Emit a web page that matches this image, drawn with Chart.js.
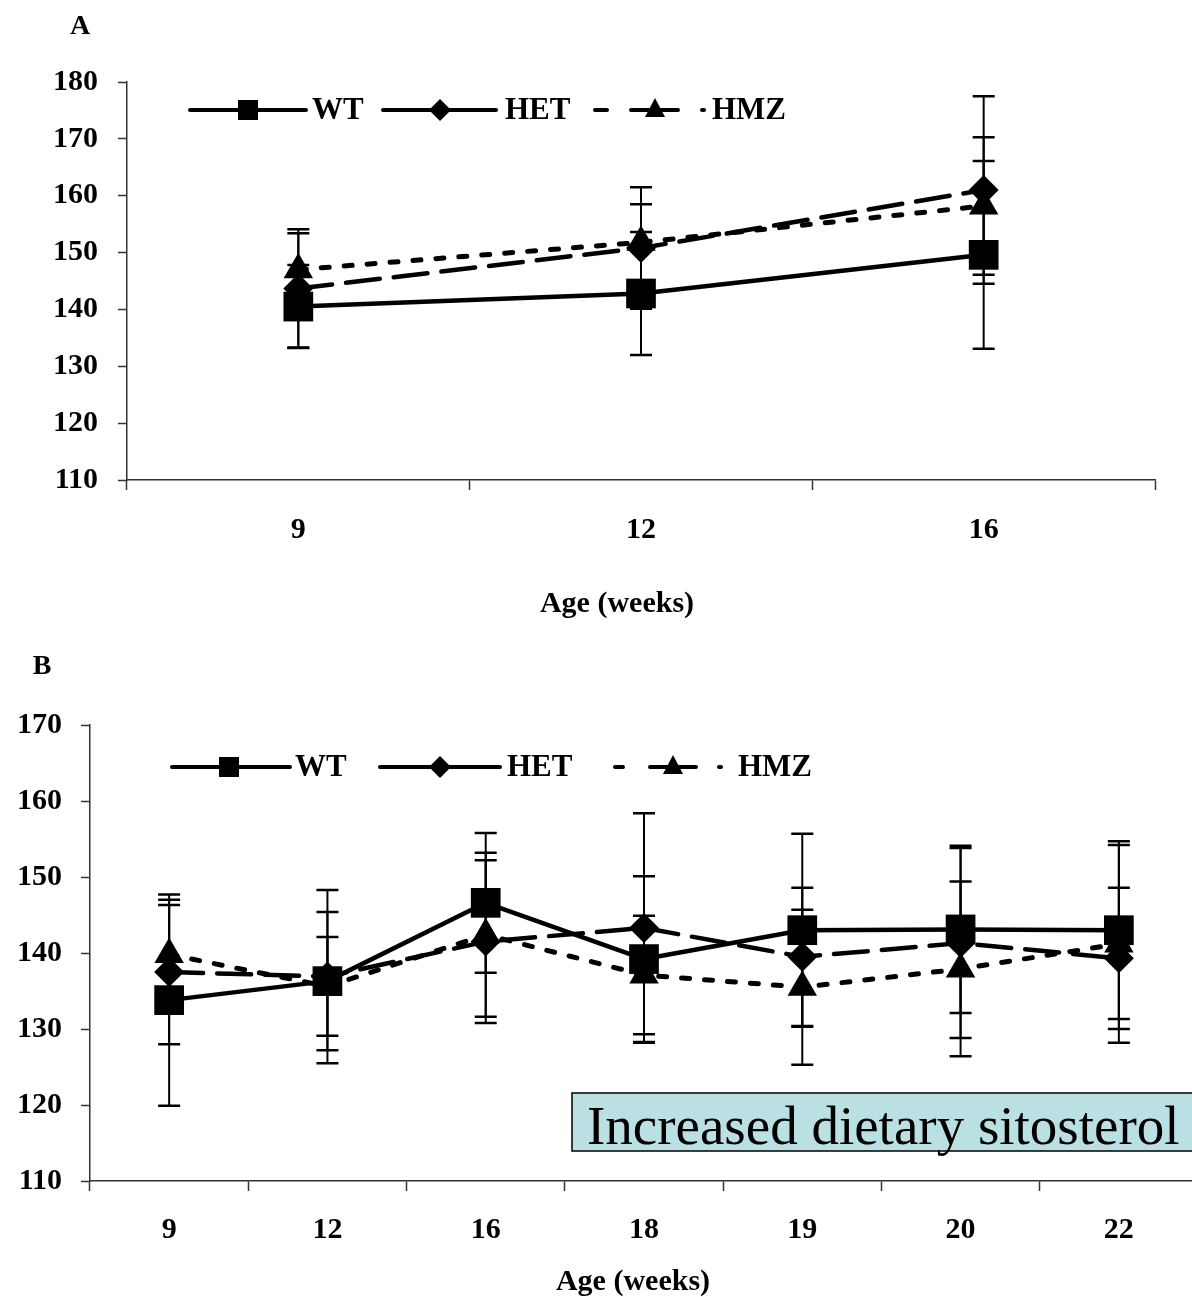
<!DOCTYPE html>
<html>
<head>
<meta charset="utf-8">
<script src="https://cdn.jsdelivr.net/npm/chart.js@4.4.1/dist/chart.umd.min.js"></script>
<style>
  html, body { margin: 0; padding: 0; background: #fff; overflow: hidden; }
  #wrapA { position: absolute; left: 0; top: 0; width: 1192px; height: 640px; }
  #wrapB { position: absolute; left: 0; top: 640px; width: 1198px; height: 657px; }
</style>
</head>
<body>
<div id="wrapA"><canvas id="chartA" width="1192" height="640"></canvas></div>
<div id="wrapB"><canvas id="chartB" width="1198" height="657"></canvas></div>
<script>
// ==========================================
// 1. DADOS
// ==========================================

// Painel A
const agesA = ["9", "12", "16"];
const wtA = [140.5, 142.8, 149.6];
const wtErrA = [7.3, 10.8, 16.5];
const hetA = [143.7, 150.8, 161.0];
const hetErrA = [10.4, 10.7, 16.5];
const hmzA = [147.0, 151.8, 158.2];
const hmzErrA = [6.4, 6.7, 12.1];

// Painel B
const agesB = ["9", "12", "16", "18", "19", "20", "22"];
const wtB = [133.8, 136.3, 146.6, 139.2, 143.0, 143.1, 143.0];
const wtErrB = [13.9, 9.1, 9.2, 10.9, 12.7, 11.0, 11.7];
const hetB = [137.5, 136.9, 141.5, 143.3, 139.5, 141.3, 139.3];
const hetErrB = [9.5, 11.4, 10.7, 15.1, 9.1, 12.5, 9.3];
const hmzB = [139.8, 135.6, 142.4, 137.1, 135.5, 137.9, 141.2];
const hmzErrB = [6.5, 6.5, 10.8, 7.8, 10.2, 11.5, 13.0];

const seriesNames = ["WT", "HET", "HMZ"];
const yTicksA = { min: 110, max: 180, step: 10 };
const yTicksB = { min: 110, max: 170, step: 10 };

// ==========================================
// 2. ESTILOS
// ==========================================

const SERIF = "'Liberation Serif', 'Times New Roman', serif";
const fonteEixo = { family: SERIF, size: 30, weight: "bold" };

function estiloSerie(i) {
    const base = {
        borderColor: "#000",
        backgroundColor: "#000",
        pointBackgroundColor: "#000",
        pointBorderColor: "#000",
        pointBorderWidth: 0,
        borderWidth: 4.5,
        tension: 0,
        fill: false,
        borderCapStyle: "round",
        borderJoinStyle: "round",
    };
    if (i === 0) return { ...base, pointStyle: "rect", pointRadius: 21, borderDash: [] };
    if (i === 1) return { ...base, pointStyle: "rectRot", pointRadius: 15, borderDash: [34, 14] };
    return { ...base, borderWidth: 5, pointStyle: "triangle", pointRadius: 17, borderDash: [8, 15] };
}

// ==========================================
// 3. PLUGINS (barras de erro, legenda, textos)
// ==========================================

const pluginErro = {
    id: "barrasErro",
    beforeDatasetsDraw(chart) {
        const ctx = chart.ctx;
        const xs = chart.scales.x;
        const ys = chart.scales.y;
        ctx.save();
        ctx.strokeStyle = "#000";
        chart.data.datasets.forEach((ds) => {
            ds.data.forEach((v, i) => {
                const e = ds.erros[i];
                const x = xs.getPixelForValue(i);
                const yTop = ys.getPixelForValue(v + e);
                const yBot = ys.getPixelForValue(v - e);
                ctx.lineWidth = 2;
                ctx.beginPath();
                ctx.moveTo(x, yTop);
                ctx.lineTo(x, yBot);
                ctx.stroke();
                ctx.lineWidth = 2.5;
                ctx.beginPath();
                ctx.moveTo(x - 11, yTop);
                ctx.lineTo(x + 11, yTop);
                ctx.moveTo(x - 11, yBot);
                ctx.lineTo(x + 11, yBot);
                ctx.stroke();
            });
        });
        ctx.restore();
    },
};

function desenharMarcador(ctx, estilo, x, y) {
    ctx.beginPath();
    if (estilo === "rect") {
        ctx.rect(x - 10, y - 10, 20, 20);
    } else if (estilo === "rectRot") {
        ctx.moveTo(x, y - 11);
        ctx.lineTo(x + 11, y);
        ctx.lineTo(x, y + 11);
        ctx.lineTo(x - 11, y);
        ctx.closePath();
    } else {
        ctx.moveTo(x, y - 12);
        ctx.lineTo(x + 10, y + 7);
        ctx.lineTo(x - 10, y + 7);
        ctx.closePath();
    }
    ctx.fill();
}

const pluginLegenda = {
    id: "legendaLinha",
    afterDraw(chart, args, opts) {
        const ctx = chart.ctx;
        ctx.save();
        chart.data.datasets.forEach((ds, i) => {
            const item = opts.itens[i];
            ctx.strokeStyle = "#000";
            ctx.fillStyle = "#000";
            ctx.lineWidth = 4;
            ctx.lineCap = "round";
            ctx.setLineDash(item.dash || []);
            ctx.beginPath();
            ctx.moveTo(item.x1, opts.y);
            ctx.lineTo(item.x2, opts.y);
            ctx.stroke();
            ctx.setLineDash([]);
            desenharMarcador(ctx, ds.pointStyle, item.mx, opts.y);
            ctx.font = `bold 31px ${SERIF}`;
            ctx.textBaseline = "middle";
            ctx.textAlign = "left";
            ctx.fillText(ds.label, item.tx, opts.y + 1);
        });
        ctx.restore();
    },
};

const pluginTextos = {
    id: "textos",
    afterDraw(chart, args, opts) {
        const ctx = chart.ctx;
        ctx.save();
        ctx.fillStyle = "#000";
        ctx.textAlign = "center";
        ctx.textBaseline = "middle";
        ctx.font = `bold 28px ${SERIF}`;
        ctx.fillText(opts.letra.texto, opts.letra.x, opts.letra.y);
        ctx.font = `bold 30px ${SERIF}`;
        ctx.fillText("Age (weeks)", opts.tituloX.x, opts.tituloX.y);
        if (opts.caixa) {
            const c = opts.caixa;
            ctx.fillStyle = "#bae0e3";
            ctx.fillRect(c.x, c.y, c.w, c.h);
            ctx.strokeStyle = "#000";
            ctx.lineWidth = 1.5;
            ctx.strokeRect(c.x, c.y, c.w, c.h);
            ctx.fillStyle = "#000";
            ctx.textAlign = "left";
            ctx.textBaseline = "alphabetic";
            ctx.font = `55px ${SERIF}`;
            ctx.fillText(c.texto, c.x + 15, c.y + 51);
        }
        ctx.restore();
    },
};

// ==========================================
// 4. CRIAÇÃO DOS GRÁFICOS
// ==========================================

function montarDatasets(valores, erros) {
    return valores.map((serie, i) => ({
        label: seriesNames[i],
        data: serie,
        erros: erros[i],
        ...estiloSerie(i),
    }));
}

function criarGrafico(idCanvas, labels, datasets, cfg) {
    return new Chart(document.getElementById(idCanvas), {
        type: "line",
        data: { labels: labels, datasets: datasets },
        plugins: [pluginErro, pluginLegenda, pluginTextos],
        options: {
            responsive: false,
            animation: false,
            devicePixelRatio: 1,
            layout: {
                autoPadding: false, // os marcadores grandes não devem encolher a área
                padding: { top: cfg.top, right: cfg.right, bottom: 0, left: 0 },
            },
            scales: {
                x: {
                    type: "category",
                    offset: true,
                    grid: { offset: true, drawOnChartArea: false, tickLength: 10, tickColor: "#333", tickWidth: 1.5 },
                    border: { color: "#333", width: 1.5 },
                    ticks: { font: fonteEixo, color: "#000", padding: cfg.xPad, maxRotation: 0 },
                    afterFit: (s) => { s.height = cfg.xAltura; },
                },
                y: {
                    min: cfg.y.min,
                    max: cfg.y.max,
                    grid: { drawOnChartArea: false, tickLength: 9, tickColor: "#333", tickWidth: 1.5 },
                    border: { color: "#333", width: 1.5 },
                    ticks: { stepSize: cfg.y.step, font: fonteEixo, color: "#000", padding: cfg.yPad },
                    afterFit: (s) => { s.width = cfg.yLargura; },
                },
            },
            plugins: {
                legend: { display: false },
                tooltip: { enabled: false },
                legendaLinha: cfg.legenda,
                textos: cfg.textos,
            },
        },
    });
}

criarGrafico("chartA", agesA,
    montarDatasets([wtA, hetA, hmzA], [wtErrA, hetErrA, hmzErrA]),
    {
        top: 82, right: 37, xAltura: 160, yLargura: 127, xPad: 22, yPad: 20, y: yTicksA,
        legenda: {
            y: 110,
            itens: [
                { x1: 190, x2: 306, mx: 248, tx: 312 },
                { x1: 383, x2: 496, mx: 440, tx: 505 },
                { x1: 595, x2: 708, mx: 655, tx: 712, dash: [12, 24, 47, 24, 2, 100] },
            ],
        },
        textos: {
            letra: { texto: "A", x: 80, y: 27 },
            tituloX: { x: 617, y: 604 },
        },
    });

criarGrafico("chartB", agesB,
    montarDatasets([wtB, hetB, hmzB], [wtErrB, hetErrB, hmzErrB]),
    {
        top: 85, right: 0, xAltura: 116, yLargura: 90, xPad: 21, yPad: 19, y: yTicksB,
        legenda: {
            y: 127,
            itens: [
                { x1: 172, x2: 290, mx: 229, tx: 295 },
                { x1: 380, x2: 500, mx: 440, tx: 507 },
                { x1: 615, x2: 733, mx: 673, tx: 738, dash: [8, 27, 46, 23, 2, 100] },
            ],
        },
        textos: {
            letra: { texto: "B", x: 42, y: 27 },
            tituloX: { x: 633, y: 642 },
            caixa: { x: 572, y: 453, w: 640, h: 58, texto: "Increased dietary sitosterol" },
        },
    });
</script>
</body>
</html>
